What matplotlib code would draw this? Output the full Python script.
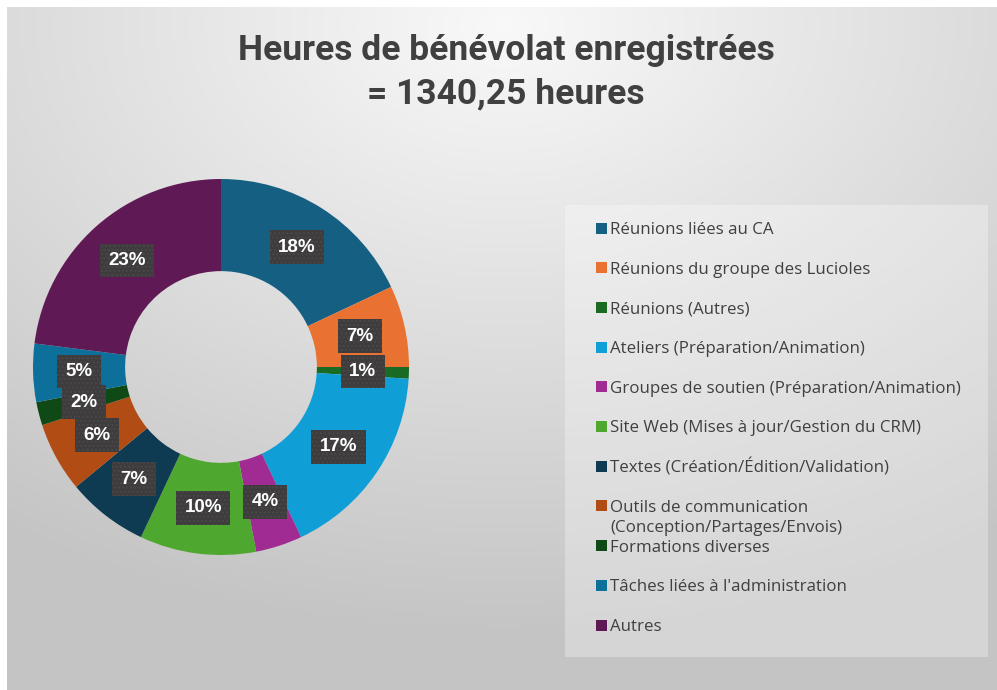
import numpy as np
import matplotlib.pyplot as plt
from matplotlib.patches import Rectangle

categories = ["Réunions liées au CA", "Réunions du groupe des Lucioles", "Réunions (Autres)",
              "Ateliers (Préparation/Animation)", "Groupes de soutien (Préparation/Animation)",
              "Site Web (Mises à jour/Gestion du CRM)", "Textes (Création/Édition/Validation)",
              "Outils de communication\n(Conception/Partages/Envois)", "Formations diverses",
              "Tâches liées à l'administration", "Autres"]
percents = [18, 7, 1, 17, 4, 10, 7, 6, 2, 5, 23]
colors = ["#156082", "#E97132", "#196B24", "#0F9ED5", "#A02B93", "#4EA72E",
          "#0E3A52", "#B04C14", "#0F4A16", "#0C709A", "#5F1A56"]
title = "Heures de bénévolat enregistrées\n= 1340,25 heures"

W, H = 997, 690
fig = plt.figure(figsize=(W / 100, H / 100), dpi=100)
fig.patch.set_facecolor("white")

# gradient background
bg = fig.add_axes([7 / W, 0, (W - 7) / W, (H - 7) / H])
bg.set_axis_off()
yy, xx = np.mgrid[0:200, 0:300]
d = np.sqrt(((xx - 150) / 300) ** 2 + ((yy - 5) / 200) ** 2)
g = np.clip(0.975 - 0.23 * d, 0.77, 1)
bg.imshow(np.dstack([g, g, g]), aspect="auto", extent=[0, 1, 0, 1], origin="upper")
bg.set_xlim(0, 1)
bg.set_ylim(0, 1)

# legend panel
fig.patches.append(Rectangle((565 / W, 1 - 657 / H), 423 / W, 452 / H, transform=fig.transFigure,
                             facecolor="white", alpha=0.3, edgecolor="none", zorder=1))

fig.text(506 / W, 1 - 72 / H, title, ha="center", va="center", fontsize=25.5, fontweight="bold",
         color="#404040", family=["Roboto", "DejaVu Sans"], linespacing=1.42)

# donut
cx, cy, R = 221, 367, 188
ax = fig.add_axes([(cx - R) / W, 1 - (cy + R) / H, 2 * R / W, 2 * R / H])
ax.set_axis_off()
wedges, _ = ax.pie(percents, colors=colors, startangle=90, counterclock=False,
                   wedgeprops=dict(width=0.49, linewidth=0))
ax.set_xlim(-1, 1)
ax.set_ylim(-1, 1)
ax.set_aspect("equal")

cum = 0
for p in percents:
    ang = np.deg2rad(90 - (cum + p / 2) * 3.6)
    cum += p
    r = 0.755
    ax.text(r * np.cos(ang), r * np.sin(ang), f"{p}%", ha="center", va="center", color="white",
            fontsize=13.5, fontweight="bold", family=["Liberation Sans", "DejaVu Sans"],
            bbox=dict(boxstyle="square,pad=0.45", facecolor="#3e3c3c", edgecolor="#4a4848",
                      hatch="....", linewidth=0))

# legend
y0, dy = 228, 39.7
for i, (lab, col) in enumerate(zip(categories, colors)):
    y = y0 + i * dy
    fig.patches.append(Rectangle((596 / W, 1 - (y + 5.5) / H), 11 / W, 11 / H,
                                 transform=fig.transFigure, facecolor=col, edgecolor="none", zorder=2))
    for k, line in enumerate(lab.split("\n")):
        fig.text(610 / W, 1 - (y + 6 + 20 * k) / H, line, ha="left", va="baseline", fontsize=12.2,
                 color="#404040", family="Open Sans")

fig.savefig("out.png", dpi=100)
